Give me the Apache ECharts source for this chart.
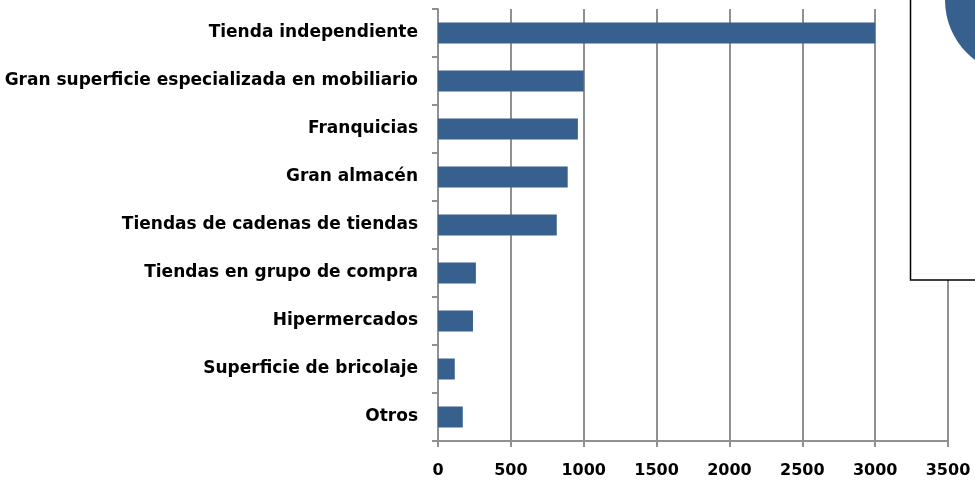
<!DOCTYPE html>
<html>
<head>
<meta charset="utf-8">
<script src="https://cdn.jsdelivr.net/npm/echarts@6/dist/echarts.min.js"></script>
<style>
  html, body { margin: 0; padding: 0; background: #fff; }
  #chart { width: 975px; height: 490px; }
</style>
</head>
<body>
<div id="chart"></div>
<script>
// categorías de arriba a abajo
const categories = [
  'Tienda independiente',
  'Gran superficie especializada en mobiliario',
  'Franquicias',
  'Gran almacén',
  'Tiendas de cadenas de tiendas',
  'Tiendas en grupo de compra',
  'Hipermercados',
  'Superficie de bricolaje',
  'Otros'
];
const values = [3000, 1000, 960, 890, 815, 260, 240, 115, 170];
const xTicks = [0, 500, 1000, 1500, 2000, 2500, 3000, 3500];

const chart = echarts.init(document.getElementById('chart'));
const font = '"DejaVu Sans", sans-serif';

chart.setOption({
  animation: false,
  grid: { left: 438, right: 27, top: 9, bottom: 49 },
  xAxis: {
    type: 'value',
    min: xTicks[0],
    max: xTicks[xTicks.length - 1],
    interval: 500,
    axisLine: { show: true, lineStyle: { color: '#909090', width: 2 } },
    axisTick: { show: true, length: 6, lineStyle: { color: '#909090', width: 2 } },
    splitLine: { show: true, lineStyle: { color: '#909090', width: 2 } },
    axisLabel: {
      color: '#000', fontFamily: font, fontWeight: 'bold', fontSize: 16, margin: 22,
      formatter: v => String(v)
    }
  },
  yAxis: {
    type: 'category',
    inverse: true,
    data: categories,
    axisLine: { show: true, lineStyle: { color: '#909090', width: 2 } },
    axisTick: { show: true, length: 6, lineStyle: { color: '#909090', width: 2 } },
    axisLabel: { color: '#000', fontFamily: font, fontWeight: 'bold', fontSize: 17, margin: 20 }
  },
  series: [{
    type: 'bar',
    data: values,
    barWidth: 21,
    itemStyle: { color: '#37608f' }
  }],
  graphic: [
    {
      type: 'rect',
      shape: { x: 910.5, y: -5, width: 80, height: 285 },
      style: { fill: '#fff', stroke: '#000', lineWidth: 1.5 },
      z: 10
    },
    {
      type: 'circle',
      shape: { cx: 1020, cy: 0, r: 75 },
      style: { fill: '#37608f' },
      z: 11
    }
  ]
});
</script>
</body>
</html>
